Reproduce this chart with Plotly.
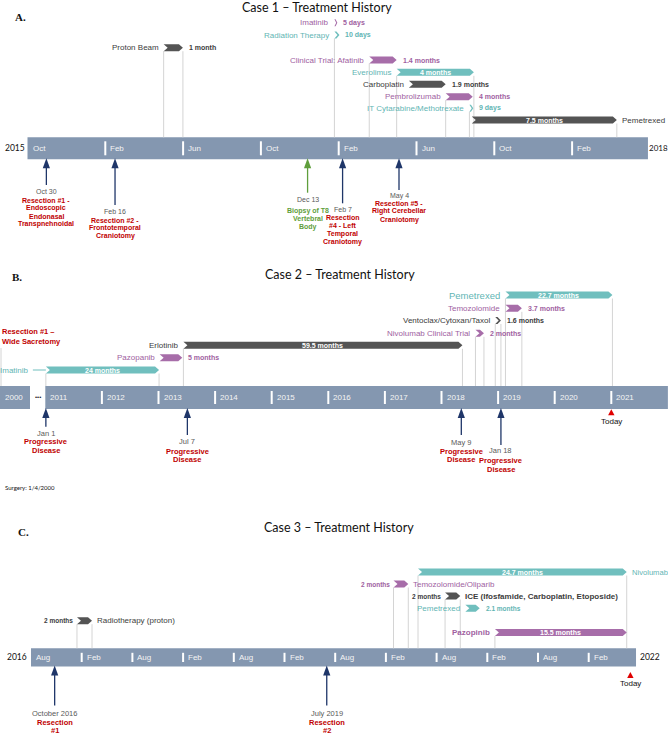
import plotly.graph_objects as go

W, H = 668, 735

# ======================= DATA =======================
# ---- Case 1 (x unit: months since Oct 1, 2015) ----
c1_names = ["Imatinib", "Radiation Therapy", "Proton Beam", "Clinical Trial: Afatinib", "Everolimus",
            "Carboplatin", "Pembrolizumab", "IT Cytarabine/Methotrexate", "Pemetrexed"]
c1_start = [15.78, 15.78, 7.00, 17.57, 18.98, 19.61, 21.50, 22.72, 22.84]
c1_end = [15.93, 16.04, 7.99, 18.98, 22.95, 21.50, 22.89, 22.92, 30.30]
c1_dur = ["5 days", "10 days", "1 month", "1.4 months", "4 months", "1.9 months", "4 months", "9 days", "7.5 months"]
c1_group = ["purple", "teal", "grey", "purple", "teal", "grey", "purple", "teal", "grey"]
c1_tick_pos = [0, 4, 8, 12, 16, 20, 24, 28]
c1_tick_labels = ["Oct", "Feb", "Jun", "Oct", "Feb", "Jun", "Oct", "Feb"]
c1_axis_end = 31.9
c1_years = ["2015", "2018"]
c1_event_x = [0.97, 4.50, 14.40, 16.20, 19.10]
c1_event_date = ["Oct 30", "Feb 16", "Dec 13", "Feb 7", "May 4"]
c1_event_text = [["Resection #1 -", "Endoscopic", "Endonasal", "Transpnehnoidal"],
                 ["Resection #2 -", "Frontotemporal", "Craniotomy"],
                 ["Biopsy of T8", "Vertebral", "Body"],
                 ["Resection", "#4 - Left", "Temporal", "Craniotomy"],
                 ["Resection #5 -", "Right Cerebellar", "Craniotomy"]]
c1_event_kind = ["resection", "resection", "biopsy", "resection", "resection"]

# ---- Case 2 (x unit: years since Jan 1, 2011; "2000" shown on a broken segment) ----
c2_names = ["Pemetrexed", "Temozolomide", "Ventoclax/Cytoxan/Taxol", "Nivolumab Clinical Trial",
            "Erlotinib", "Pazopanib", "Imatinib"]
c2_start = [8.13, 8.13, 7.95, 7.60, 2.44, 2.02, 0.01]
c2_end = [10.02, 8.42, 8.05, 7.75, 7.37, 2.42, 2.01]
c2_dur = ["22.7 months", "3.7 months", "1.6 months", "2 months", "59.5 months", "5 months", "24 months"]
c2_group = ["teal", "purple", "grey", "purple", "grey", "purple", "teal"]
c2_tick_pos = [0, 1, 2, 3, 4, 5, 6, 7, 8, 9, 10]
c2_tick_labels = ["2011", "2012", "2013", "2014", "2015", "2016", "2017", "2018", "2019", "2020", "2021"]
c2_axis_end = 11.0
c2_break_label = "2000"
c2_break_span = [-0.80, -0.27]
c2_event_x = [0.01, 2.51, 7.35, 8.05]
c2_event_date = ["Jan 1", "Jul 7", "May 9", "Jan 18"]
c2_event_text = [["Progressive", "Disease"]] * 4
c2_first_resection = ["Resection #1 –", "Wide Sacretomy"]
c2_today = 10.0
c2_note = "Surgery: 1/4/2000"

# ---- Case 3 (x unit: months since Aug 1, 2016) ----
c3_names = ["Nivolumab", "Temozolomide/Oliparib", "ICE (Ifosfamide, Carboplatin, Etoposide)",
            "Pemetrexed", "Radiotherapy (proton)", "Pazopinib"]
c3_start = [45.8, 42.9, 49.0, 51.4, 5.44, 54.9]
c3_end = [70.5, 44.65, 50.8, 53.1, 7.22, 70.5]
c3_dur = ["24.7 months", "2 months", "2 months", "2.1 months", "2 months", "15.5 months"]
c3_group = ["teal", "purple", "grey", "teal", "grey", "purple"]
c3_tick_pos = [0, 6, 12, 18, 24, 30, 36, 42, 48, 54, 60, 66]
c3_tick_labels = ["Aug", "Feb", "Aug", "Feb", "Aug", "Feb", "Aug", "Feb", "Aug", "Feb", "Aug", "Feb"]
c3_axis_end = 71.6
c3_years = ["2016", "2022"]
c3_event_x = [2.8, 35.0]
c3_event_date = ["October 2016", "July 2019"]
c3_event_text = [["Resection", "#1"], ["Resection", "#2"]]
c3_today = 70.93

# ======================= STYLE / LAYOUT =======================
FONT = "Liberation Sans, Arial, sans-serif"
TFONT = "Lato, Carlito, Calibri, sans-serif"
BAR = {"teal": "#70bfbe", "purple": "#a76da9", "grey": "#545454"}
TXT = {"teal": "#5fb5b4", "purple": "#a0619f", "grey": "#3c3c3c"}
AXIS = "#8497b0"
GUIDE = "#d4d4d4"
NAVY = "#1f3669"
GREEN = "#5f9e3c"
RED = "#c00000"
DATEC = "#595959"

fig = go.Figure()
shapes, annos = [], []


def T(x, y, text, xref, size=8, color="#3c3c3c", bold=False, xanchor="center", xshift=0, family=FONT):
    if bold:
        text = "<b>" + text + "</b>"
    annos.append(dict(x=x, y=y, xref=xref, yref="y", text=text, showarrow=False, xanchor=xanchor,
                      yanchor="middle", xshift=xshift, font=dict(family=family, size=size, color=color)))


def poly(xs, ys, axis, color):
    fig.add_trace(go.Scatter(x=xs, y=ys, xaxis=axis, yaxis="y", mode="lines", fill="toself",
                             fillcolor=color, line=dict(width=0, color=color), hoverinfo="skip",
                             showlegend=False))


def vline(x, y0, y1, xref, color, width=1, layer="below"):
    shapes.append(dict(type="line", xref=xref, yref="y", x0=x, x1=x, y0=y0, y1=y1,
                       line=dict(color=color, width=width), layer=layer))


def draw_case(cfg, names, starts, ends, durs, groups, tick_pos, tick_labels, axis_end):
    ax, xr, ppu = cfg["axis"], cfg["xref"], cfg["ppu"]
    top, bot = cfg["bar_top"], cfg["bar_bot"]
    shapes.append(dict(type="rect", xref=xr, yref="y", x0=0, x1=axis_end, y0=top, y1=bot,
                       fillcolor=AXIS, line=dict(width=0), layer="below"))
    for p, lab in zip(tick_pos, tick_labels):
        if p > 0:
            shapes.append(dict(type="line", xref=xr, yref="y", x0=p, x1=p, y0=top + cfg["tick_in"],
                               y1=bot - cfg["tick_in"], line=dict(color="white", width=2), layer="below"))
        T(p, (top + bot) / 2, lab, xr, size=8, color="#f4f4f4", xanchor="left", xshift=3)
    h = 7
    for i, (n, s, e, d, g) in enumerate(zip(names, starts, ends, durs, groups)):
        y = cfg["rows"][i]
        w = (e - s) * ppu
        t = min(4.0, w * 0.6) / ppu
        xs = [s, e - t, e, e - t, s, s + t, s]
        ys = [y - h / 2, y - h / 2, y, y + h / 2, y + h / 2, y, y - h / 2]
        poly(xs, ys, ax, BAR[g])
        drop = cfg["drops"][i]
        if "s" in drop:
            vline(s, y + h / 2, top, xr, GUIDE)
        if "e" in drop:
            vline(e, y + h / 2, top, xr, GUIDE)
        ns, ds = cfg["name_side"][i], cfg["dur_side"][i]
        nsize = cfg.get("name_size", {}).get(i, 8)
        nbold = i in cfg.get("name_bold", [])
        lead = cfg.get("leader", {}).get(i, 0)
        if ns == "L":
            T(s, y, n, xr, size=nsize, color=TXT[g], bold=nbold, xanchor="right", xshift=-3 - lead)
        else:
            T(e, y, n, xr, size=nsize, color=TXT[g], bold=nbold, xanchor="left", xshift=3)
        if lead:
            shapes.append(dict(type="line", xref=xr, yref="y", x0=s - (lead + 1) / ppu, x1=s, y0=y, y1=y,
                               line=dict(color=BAR[g], width=1)))
        dsize = cfg.get("dur_size", 7)
        if ds == "in":
            T((s + e) / 2, y, d, xr, size=7, color="white", bold=True)
        elif ds == "R":
            T(e, y, d, xr, size=dsize, color=TXT[g], bold=True, xanchor="left", xshift=4)
        else:
            T(s, y, d, xr, size=dsize, color=TXT[g], bold=True, xanchor="right", xshift=-2)


def arrow(cfg, x, shaft_end, color):
    ax, xr, ppu, bot = cfg["axis"], cfg["xref"], cfg["ppu"], cfg["bar_bot"]
    hw = 3.6 / ppu
    vline(x, bot + 8, shaft_end, xr, color, width=1.3, layer="above")
    poly([x - hw, x, x + hw, x - hw], [bot + 9, bot - 1, bot + 9, bot + 9], ax, color)


def events(cfg, xs, dates, texts, kinds, lay, lsize, spacing):
    xr = cfg["xref"]
    for i, x in enumerate(xs):
        col = GREEN if kinds[i] == "biopsy" else NAVY
        tcol = GREEN if kinds[i] == "biopsy" else RED
        arrow(cfg, x, lay["shaft"][i], col)
        T(x, lay["date"][i], dates[i], xr, size=lsize, color=DATEC)
        for k, line in enumerate(texts[i]):
            T(x, lay["label"][i] + k * spacing, line, xr, size=lsize, color=tcol, bold=True)


def today(cfg, x, y_tip, y_text):
    ax, xr, ppu = cfg["axis"], cfg["xref"], cfg["ppu"]
    hw = 3.2 / ppu
    poly([x - hw, x, x + hw, x - hw], [y_tip + 6, y_tip, y_tip + 6, y_tip + 6], ax, "#e00000")
    T(x, y_text, "Today", xr, size=8, color="#111111")


# ---------------- Case 1 ----------------
cfg1 = dict(axis="x", xref="x", px0=27.5, ppu=19.45, bar_top=137.3, bar_bot=159.3, tick_in=4,
            rows=[22.7, 35.0, 47.7, 60.0, 72.3, 84.3, 96.7, 108.3, 120.0],
            drops=["", "s", "se", "s", "se", "", "s", "s", "e"],
            name_side=["L", "L", "L", "L", "L", "L", "L", "L", "R"],
            dur_side=["R", "R", "R", "R", "in", "R", "R", "R", "in"])
draw_case(cfg1, c1_names, c1_start, c1_end, c1_dur, c1_group, c1_tick_pos, c1_tick_labels, c1_axis_end)
events(cfg1, c1_event_x, c1_event_date, c1_event_text, c1_event_kind,
       dict(shaft=[185, 205, 192.7, 203.3, 190], date=[191.7, 211, 199.3, 209.3, 195.7],
            label=[200, 220, 210.7, 217.3, 203.3]), 7, 8.1)
T(0, 148.3, c1_years[0], "x", size=8.5, color="#111111", xanchor="right", xshift=-1, family=TFONT)
T(c1_axis_end, 148.3, c1_years[1], "x", size=8, color="#111111", xanchor="left", xshift=-1, family=TFONT)

# ---------------- Case 2 ----------------
cfg2 = dict(axis="x2", xref="x2", px0=45.3, ppu=56.6, bar_top=386, bar_bot=409, tick_in=5,
            rows=[295.0, 308.3, 320.5, 333.3, 345.3, 357.7, 370.0],
            drops=["se", "e", "se", "se", "se", "", "se"],
            name_side=["L"] * 7,
            dur_side=["in", "R", "R", "R", "in", "R", "in"],
            name_size={0: 9.5}, leader={6: 12})
draw_case(cfg2, c2_names, c2_start, c2_end, c2_dur, c2_group, c2_tick_pos, c2_tick_labels, c2_axis_end)
b0, b1 = c2_break_span
shapes.append(dict(type="rect", xref="x2", yref="y", x0=b0, x1=b1, y0=386, y1=409,
                   fillcolor=AXIS, line=dict(width=0), layer="below"))
T(b0, 397.5, c2_break_label, "x2", size=8, color="#f4f4f4", xanchor="left", xshift=3)
T((b1 + 0) / 2, 396.5, "•••", "x2", size=6, color="#222222")
vline(b0 + 1 / 56.6, 348, 386, "x2", GUIDE)
for k, line in enumerate(c2_first_resection):
    T(b0, 331.7 + k * 10, line, "x2", size=7.5, color=RED, bold=True, xanchor="left")
events(cfg2, c2_event_x, c2_event_date, c2_event_text, ["resection"] * 4,
       dict(shaft=[426.7, 435, 435, 445], date=[433.3, 441.7, 442.3, 450.7],
            label=[441.7, 451, 451, 460.3]), 7.5, 8.8)
today(cfg2, c2_today, 409.3, 421.7)
T(b0, 487.3, c2_note, "x2", size=6, color="#111111", xanchor="left", xshift=3, family=TFONT)

# ---------------- Case 3 ----------------
cfg3 = dict(axis="x3", xref="x3", px0=31.0, ppu=8.45, bar_top=648.3, bar_bot=666.5, tick_in=4.5,
            rows=[572.0, 584.0, 596.0, 608.3, 620.7, 632.5],
            drops=["se", "se", "se", "", "se", "s"],
            name_side=["R", "R", "R", "L", "R", "L"],
            dur_side=["in", "L", "L", "R", "L", "in"],
            name_bold=[2, 5], dur_size=6.5, name_size={0: 7.6})
draw_case(cfg3, c3_names, c3_start, c3_end, c3_dur, c3_group, c3_tick_pos, c3_tick_labels, c3_axis_end)
events(cfg3, c3_event_x, c3_event_date, c3_event_text, ["resection"] * 2,
       dict(shaft=[705.5, 705.5], date=[713, 713], label=[722.5, 722.5]), 7.5, 8.0)
today(cfg3, c3_today, 672, 683.3)
T(0, 657.4, c3_years[0], "x3", size=8.5, color="#111111", xanchor="right", xshift=-2, family=TFONT)
T(c3_axis_end, 657.4, c3_years[1], "x3", size=8.5, color="#111111", xanchor="left", xshift=2, family=TFONT)

# ---------------- Titles & panel letters ----------------
for cx, cy, txt in [(317, 7, "Case 1 – Treatment History"), (340, 274.3, "Case 2 – Treatment History"),
                    (339, 527.3, "Case 3 – Treatment History")]:
    annos.append(dict(x=cx / W, y=cy, xref="paper", yref="y", text=txt, showarrow=False, xanchor="center",
                      yanchor="middle", font=dict(family=TFONT, size=12.5, color="#111111")))
for lx, ly, txt in [(20, 17, "A."), (17, 277, "B."), (23, 532, "C.")]:
    annos.append(dict(x=lx / W, y=ly, xref="paper", yref="y", text="<b>" + txt + "</b>", showarrow=False,
                      xanchor="center", yanchor="middle",
                      font=dict(family="Liberation Serif, Times New Roman, serif", size=11, color="#111111")))


def xrange(cfg):
    return [-cfg["px0"] / cfg["ppu"], (W - cfg["px0"]) / cfg["ppu"]]


hidden = dict(visible=False, showgrid=False, zeroline=False, fixedrange=True)
fig.update_layout(
    width=W, height=H, margin=dict(l=0, r=0, t=0, b=0),
    paper_bgcolor="white", plot_bgcolor="white", showlegend=False,
    xaxis=dict(range=xrange(cfg1), domain=[0, 1], **hidden),
    xaxis2=dict(range=xrange(cfg2), domain=[0, 1], overlaying="x", **hidden),
    xaxis3=dict(range=xrange(cfg3), domain=[0, 1], overlaying="x", **hidden),
    yaxis=dict(range=[H, 0], domain=[0, 1], **hidden),
    shapes=shapes, annotations=annos,
)
fig.write_html("out.html", config={"displayModeBar": False},
               post_script="document.body.style.margin='0px';document.body.style.overflow='hidden';")
